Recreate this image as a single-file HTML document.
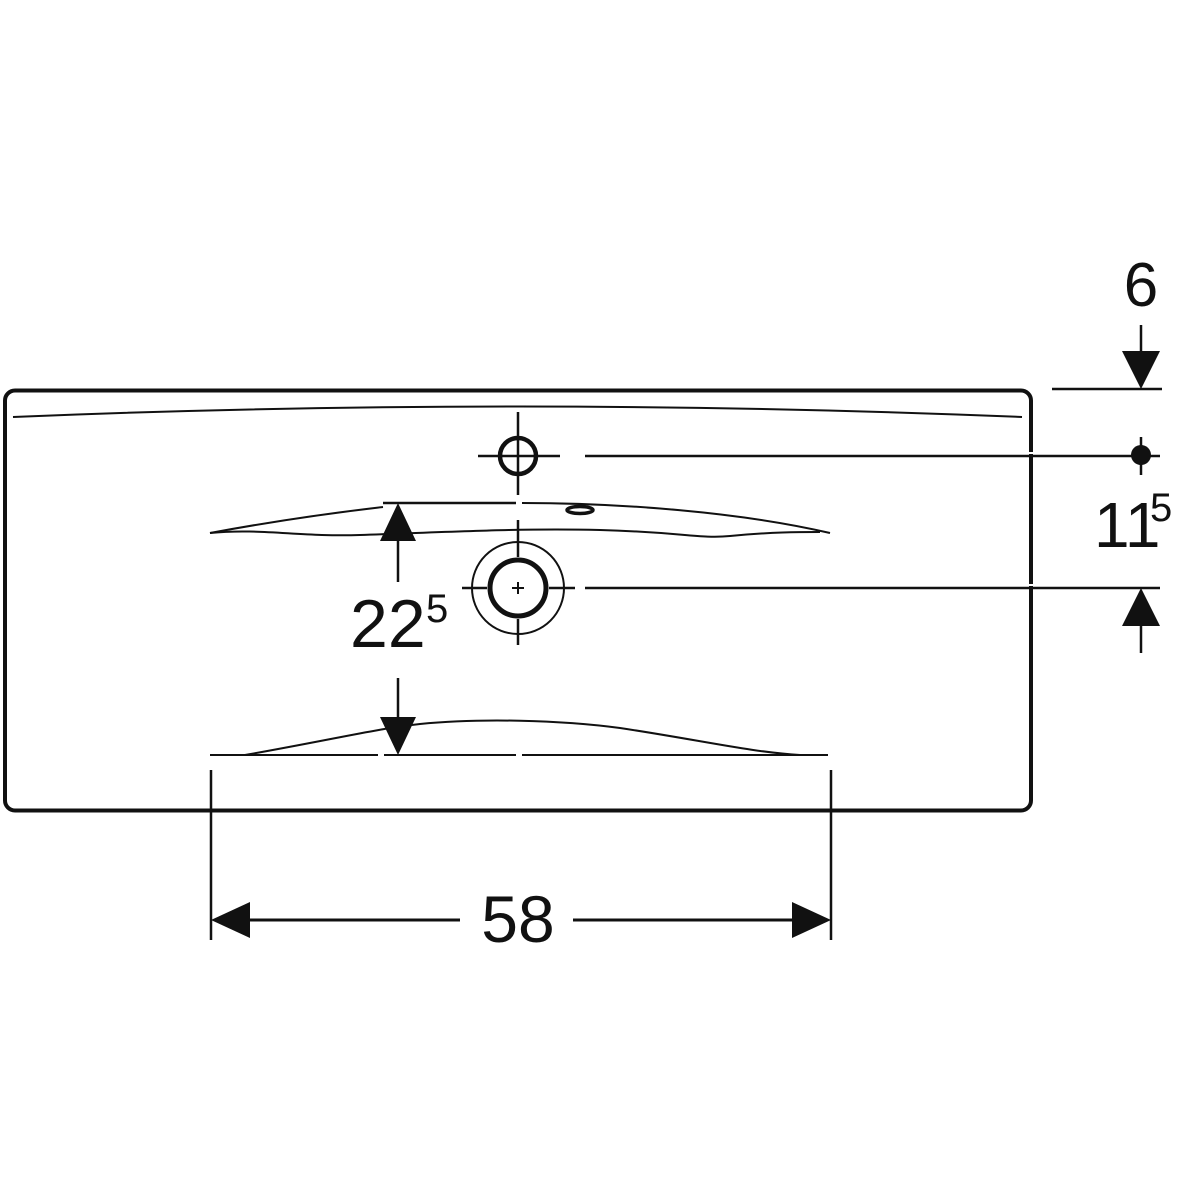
<!DOCTYPE html>
<html><head><meta charset="utf-8"><style>html,body{margin:0;padding:0;background:#fff}svg{display:block}</style></head>
<body>
<svg width="1200" height="1200" viewBox="0 0 1200 1200" xmlns="http://www.w3.org/2000/svg" font-family="Liberation Sans, Arial, sans-serif">
<rect width="1200" height="1200" fill="#fff"/>
<g fill="none" stroke="#111">
<rect x="5" y="390.5" width="1026" height="420" rx="10" stroke-width="4"/>
<path d="M13 417 Q518 396 1022 417" stroke-width="2"/>
<line x1="585" y1="456" x2="1160" y2="456" stroke-width="2.5"/>
<line x1="585" y1="588" x2="1160" y2="588" stroke-width="2.5"/>
<line x1="1052" y1="389" x2="1162" y2="389" stroke-width="2.5"/>
<circle cx="518" cy="456" r="18" stroke-width="4.5"/>
<line x1="478" y1="456" x2="560" y2="456" stroke-width="2.5"/>
<line x1="518" y1="412" x2="518" y2="495" stroke-width="2.5"/>
<line x1="383" y1="503" x2="516" y2="503" stroke-width="2.5"/>
<path d="M522 503 C620 503 740 512 830 533" stroke-width="2"/>
<path d="M210 533 C280 520 340 512 383 507" stroke-width="2"/>
<path d="M210 533 C260 528 300 537 360 535 C450 532 520 528 600 530 C680 532 700 539 730 536 C770 532 800 532 820 532" stroke-width="2"/>
<ellipse cx="580" cy="510" rx="13" ry="3.5" stroke-width="3.5"/>
<circle cx="518" cy="588" r="28" stroke-width="5"/>
<circle cx="518" cy="588" r="46" stroke-width="2"/>
<line x1="462" y1="588" x2="487" y2="588" stroke-width="2.5"/>
<line x1="549" y1="588" x2="575" y2="588" stroke-width="2.5"/>
<line x1="518" y1="520" x2="518" y2="557" stroke-width="2.5"/>
<line x1="518" y1="619" x2="518" y2="645" stroke-width="2.5"/>
<line x1="512" y1="588" x2="524" y2="588" stroke-width="2"/>
<line x1="518" y1="582" x2="518" y2="594" stroke-width="2"/>
<line x1="210" y1="755" x2="378" y2="755" stroke-width="2"/>
<line x1="384" y1="755" x2="516" y2="755" stroke-width="2"/>
<line x1="522" y1="755" x2="828" y2="755" stroke-width="2"/>
<path d="M245 755 C330 740 380 728 420 724 C480 718 560 720 620 728 C700 740 750 752 800 755" stroke-width="2"/>
<line x1="398" y1="535" x2="398" y2="582" stroke-width="2.5"/>
<line x1="398" y1="678" x2="398" y2="722" stroke-width="2.5"/>
<line x1="211" y1="770" x2="211" y2="940" stroke-width="2.5"/>
<line x1="831" y1="770" x2="831" y2="940" stroke-width="2.5"/>
<line x1="240" y1="920" x2="460" y2="920" stroke-width="3"/>
<line x1="573" y1="920" x2="805" y2="920" stroke-width="3"/>
<line x1="1141" y1="325" x2="1141" y2="355" stroke-width="2.5"/>
<line x1="1141" y1="437" x2="1141" y2="475" stroke-width="2.5"/>
<line x1="1141" y1="620" x2="1141" y2="653" stroke-width="2.5"/>
</g>
<rect x="1028" y="452" width="8" height="2" fill="#fff"/>
<rect x="1028" y="584" width="8" height="2" fill="#fff"/>
<g fill="#111">
<polygon points="398,503 380,541 416,541"/>
<polygon points="398,755 380,717 416,717"/>
<polygon points="211,920 250,902 250,938"/>
<polygon points="831,920 792,902 792,938"/>
<polygon points="1141,389 1122,351 1160,351"/>
<polygon points="1141,588 1122,626 1160,626"/>
<circle cx="1141" cy="455" r="10"/>
</g>
<g fill="#111">
<text x="350" y="647" font-size="68">22</text>
<text x="426" y="622" font-size="40">5</text>
<text x="518" y="942" font-size="66" text-anchor="middle">58</text>
<text x="1141" y="306" font-size="62" text-anchor="middle">6</text>
<text x="1094" y="547" font-size="64">11</text>
<text x="1150" y="521" font-size="40">5</text>
</g>
</svg>
</body></html>
